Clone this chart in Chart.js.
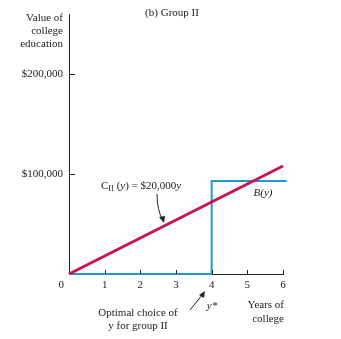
<!DOCTYPE html>
<html>
<head>
<meta charset="utf-8">
<script src="https://cdn.jsdelivr.net/npm/chart.js@4"></script>
<style>
  html, body { margin: 0; padding: 0; background: #fff; }
  #wrap { width: 341px; height: 339px; }
</style>
</head>
<body>
<div id="wrap"><canvas id="c"></canvas></div>
<script>
// values
const years = [0, 1, 2, 3, 4, 5, 6];
const costValues = [0, 18000, 36000, 54000, 72000, 90000, 108000];
const benefitYears = [0, 4, 4, 6.1];
const benefitValues = [0, 0, 93000, 93000];
const xTicks = [1, 2, 3, 4, 5, 6];
const yTicks = [100000, 200000];
const yTickLabels = ['$100,000', '$200,000'];

const red = '#c8144f';
const blue = '#1c9ad6';
const serif = '"Liberation Serif", "DejaVu Serif", serif';

// text, tick marks and arrows around the plot
const annotations = {
  id: 'annotations',
  afterDraw(chart) {
    const ctx = chart.ctx;
    const xs = chart.scales.x, ys = chart.scales.y;
    const x0 = xs.getPixelForValue(0), y0 = ys.getPixelForValue(0);
    ctx.save();
    ctx.fillStyle = '#222';
    ctx.strokeStyle = '#222';
    ctx.lineWidth = 1;

    // inside tick marks
    xTicks.forEach(v => {
      const px = Math.round(xs.getPixelForValue(v)) + 0.5;
      ctx.beginPath(); ctx.moveTo(px, y0); ctx.lineTo(px, y0 - 4); ctx.stroke();
    });
    yTicks.forEach(v => {
      const py = Math.round(ys.getPixelForValue(v)) + 0.5;
      ctx.beginPath(); ctx.moveTo(x0, py); ctx.lineTo(x0 + 6, py); ctx.stroke();
    });

    ctx.font = '11px ' + serif;
    ctx.textBaseline = 'middle';
    ctx.textAlign = 'center';
    xTicks.forEach(v => ctx.fillText(String(v), xs.getPixelForValue(v), y0 + 11));
    ctx.textAlign = 'right';
    yTicks.forEach((v, i) => ctx.fillText(yTickLabels[i], x0 - 6, ys.getPixelForValue(v)));
    ctx.fillText('0', x0 - 5, y0 + 11);

    // y axis title
    ctx.fillText('Value of', x0 - 6, 18);
    ctx.fillText('college', x0 - 6, 31);
    ctx.fillText('education', x0 - 6, 44);

    // panel title
    ctx.textAlign = 'center';
    ctx.fillText('(b) Group II', 172, 13);

    // x axis title
    ctx.textAlign = 'right';
    ctx.fillText('Years of', 284, 305);
    ctx.fillText('college', 284, 319);

    ctx.textAlign = 'center';
    ctx.fillText('Optimal choice of', 138, 313);
    ctx.fillText('y for group II', 138, 326);
    ctx.font = 'italic 11px ' + serif;
    ctx.fillText('y*', 212, 306);
    ctx.fillText('B(y)', 263, 193);

    // cost label
    ctx.textAlign = 'left';
    ctx.font = '11px ' + serif;
    let tx = 101;
    ctx.fillText('C', tx, 186); tx += ctx.measureText('C').width;
    ctx.font = '8px ' + serif;
    ctx.fillText('II', tx, 189); tx += ctx.measureText('II').width + 3;
    ctx.font = '11px ' + serif;
    ctx.fillText('(', tx, 186); tx += ctx.measureText('(').width;
    ctx.font = 'italic 11px ' + serif;
    ctx.fillText('y', tx, 186); tx += ctx.measureText('y').width;
    ctx.font = '11px ' + serif;
    ctx.fillText(') = $20,000', tx, 186); tx += ctx.measureText(') = $20,000').width;
    ctx.font = 'italic 11px ' + serif;
    ctx.fillText('y', tx, 186);

    // curved arrow to the cost line
    ctx.beginPath();
    ctx.moveTo(157, 194);
    ctx.quadraticCurveTo(157, 210, 163, 221);
    ctx.stroke();
    ctx.beginPath();
    ctx.moveTo(164, 223); ctx.lineTo(159, 217); ctx.lineTo(165, 216);
    ctx.closePath(); ctx.fill();

    // straight arrow to y*
    ctx.beginPath();
    ctx.moveTo(190, 310); ctx.lineTo(203, 294);
    ctx.stroke();
    ctx.beginPath();
    ctx.moveTo(205, 291); ctx.lineTo(199, 295); ctx.lineTo(204, 298);
    ctx.closePath(); ctx.fill();
    ctx.restore();
  }
};

new Chart(document.getElementById('c'), {
  type: 'line',
  data: {
    datasets: [
      {
        label: 'B(y)',
        data: benefitYears.map((x, i) => ({ x: x, y: benefitValues[i] })),
        borderColor: blue,
        borderWidth: 2,
        pointRadius: 0,
        tension: 0,
        clip: false,
        order: 2
      },
      {
        label: 'C(y)',
        data: years.map((x, i) => ({ x: x, y: costValues[i] })),
        borderColor: red,
        borderWidth: 3,
        pointRadius: 0,
        tension: 0,
        clip: false,
        order: 1
      }
    ]
  },
  options: {
    responsive: true,
    maintainAspectRatio: false,
    animation: false,
    layout: { padding: { left: 69, top: 14, right: 58, bottom: 65 } },
    plugins: { legend: { display: false }, tooltip: { enabled: false } },
    scales: {
      x: {
        type: 'linear', min: 0, max: 6,
        grid: { display: false, drawTicks: false },
        border: { display: true, color: '#222', width: 1 },
        ticks: { display: false }
      },
      y: {
        type: 'linear', min: 0, max: 260000,
        grid: { display: false, drawTicks: false },
        border: { display: true, color: '#222', width: 1 },
        ticks: { display: false }
      }
    }
  },
  plugins: [annotations]
});
</script>
</body>
</html>
